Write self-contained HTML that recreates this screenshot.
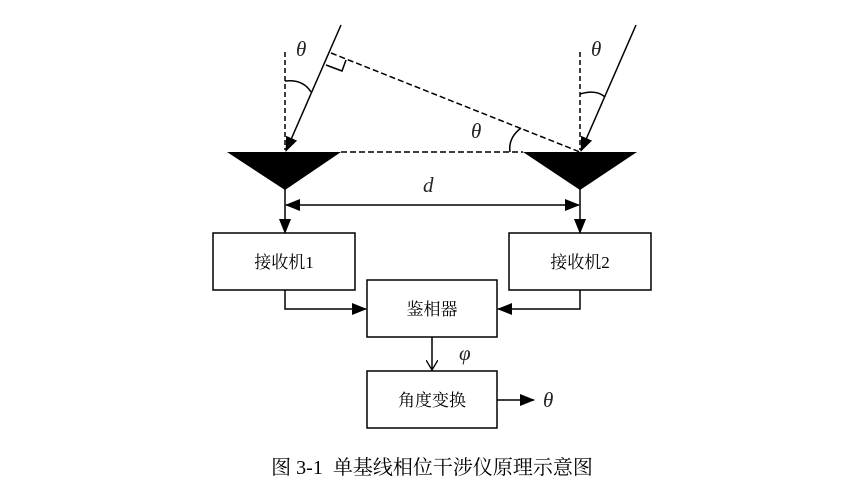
<!DOCTYPE html>
<html><head><meta charset="utf-8"><style>
body{margin:0;background:#fff}
svg text{font-family:"Liberation Serif","Noto Serif CJK SC",serif}
</style></head><body>
<svg width="866" height="497" viewBox="0 0 866 497" xmlns="http://www.w3.org/2000/svg">
<defs>
<marker id="a" markerWidth="15" markerHeight="12" refX="14" refY="6" orient="auto-start-reverse" markerUnits="userSpaceOnUse"><path d="M0,0 L15,6 L0,12 Z" fill="#000"/></marker>
<marker id="o" markerWidth="12" markerHeight="12" refX="10" refY="6" orient="auto" markerUnits="userSpaceOnUse"><path d="M0,0 L10,6 L0,12" fill="none" stroke="#000" stroke-width="1.3"/></marker>
</defs>
<path d="M227,152 L341,152 L285,190 Z" fill="#000"/>
<path d="M523,152 L637,152 L580,190 Z" fill="#000"/>
<g stroke="#000" stroke-width="1.5" fill="none">
<line x1="285" y1="52" x2="285" y2="150" stroke-dasharray="5,3"/>
<line x1="580" y1="52" x2="580" y2="150" stroke-dasharray="5,3"/>
<line x1="331" y1="53" x2="580" y2="152" stroke-dasharray="6,3"/>
<line x1="341" y1="152" x2="523" y2="152" stroke-dasharray="6,3"/>
<path d="M326,65 L342,71 L346,60"/>
<line x1="341" y1="25" x2="286" y2="151" marker-end="url(#a)"/>
<line x1="636" y1="25" x2="581" y2="151" marker-end="url(#a)"/>
<path d="M285,81 Q303,79 311,92"/>
<path d="M580,94 Q596,89 605,97"/>
<path d="M510,152 Q508,138 521,128"/>
<line x1="285" y1="188" x2="285" y2="233" marker-end="url(#a)"/>
<line x1="580" y1="188" x2="580" y2="233" marker-end="url(#a)"/>
<line x1="286" y1="205" x2="579" y2="205" marker-start="url(#a)" marker-end="url(#a)"/>
<rect x="213" y="233" width="142" height="57"/>
<rect x="509" y="233" width="142" height="57"/>
<rect x="367" y="280" width="130" height="57"/>
<rect x="367" y="371" width="130" height="57"/>
<path d="M285,290 V309 H366" marker-end="url(#a)"/>
<path d="M580,290 V309 H498" marker-end="url(#a)"/>
<line x1="432" y1="337" x2="432" y2="370" marker-end="url(#o)"/>
<line x1="497" y1="400" x2="534" y2="400" marker-end="url(#a)"/>
</g>
<g font-size="21" font-style="italic" fill="#222">
<text x="296" y="56">θ</text>
<text x="591" y="56">θ</text>
<text x="471" y="138">θ</text>
<text x="423" y="192">d</text>
<text x="459" y="360">φ</text>
<text x="543" y="407">θ</text>
</g>
<g font-size="17" fill="#000" text-anchor="middle" font-family="Liberation Sans,Noto Sans CJK SC,sans-serif">
<text x="284" y="268">接收机1</text>
<text x="580" y="268">接收机2</text>
<text x="432" y="315">鉴相器</text>
<text x="432" y="406">角度变换</text>
</g>
<text x="432" y="474" font-size="20" text-anchor="middle" fill="#000" xml:space="preserve">图 3-1  单基线相位干涉仪原理示意图</text>
</svg>
</body></html>
